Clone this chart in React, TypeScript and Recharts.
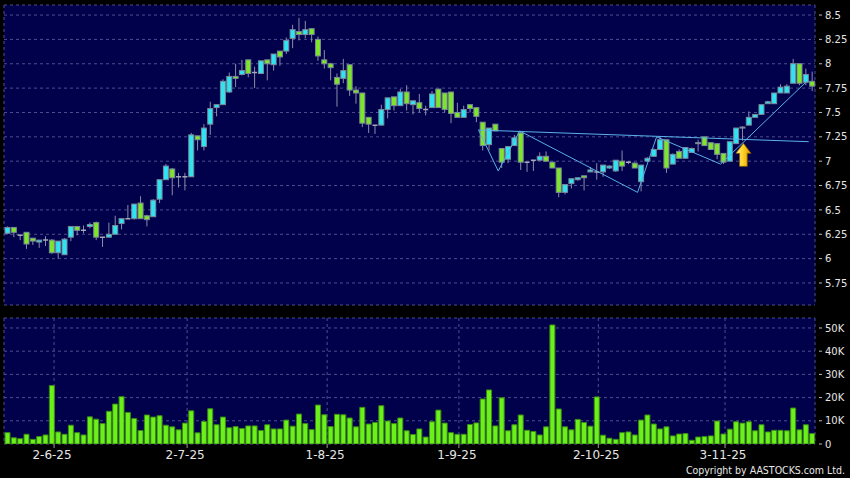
import React from "react";
import {
  ComposedChart,
  BarChart,
  Bar,
  XAxis,
  YAxis,
  CartesianGrid,
  ReferenceLine,
  ReferenceDot,
} from "recharts";

// daily candles, oldest first
const opens = [
  6.26, 6.32, 6.24, 6.27, 6.21, 6.17, 6.19, 6.19, 6.06, 6.04,
  6.22, 6.33, 6.29, 6.33, 6.37, 6.22, 6.22, 6.25, 6.36, 6.41,
  6.41, 6.57, 6.44, 6.43, 6.61, 6.81, 6.92, 6.84, 6.84, 6.84,
  7.26, 7.15, 7.38, 7.55, 7.58, 7.71, 7.87, 7.89, 8.04, 7.91,
  7.9, 8.04, 7.99, 8.13, 8.13, 8.26, 8.33, 8.3, 8.36, 8.25,
  8.04, 8.0, 7.86, 7.85, 7.99, 7.73, 7.7, 7.45, 7.37, 7.37,
  7.53, 7.66, 7.57, 7.71, 7.58, 7.6, 7.53, 7.55, 7.74, 7.7,
  7.71, 7.5, 7.45, 7.58, 7.55, 7.4, 7.17, 7.38, 7.13, 7.02,
  7.16, 7.29, 6.99, 7.01, 7.01, 7.05, 6.99, 6.93, 6.68, 6.77,
  6.81, 6.85, 6.89, 6.89, 6.89, 6.93, 6.9, 7.0, 6.99, 6.98,
  6.79, 7.0, 7.05, 7.12, 7.22, 6.97, 7.1, 7.03, 7.09, 7.18,
  7.25, 7.19, 7.18, 7.08, 7.0, 7.18, 7.34, 7.37, 7.45, 7.48,
  7.59, 7.59, 7.7, 7.7, 7.8, 8.0, 7.81, 7.82,
];
const highs = [
  6.33, 6.32, 6.25, 6.27, 6.21, 6.19, 6.23, 6.2, 6.18, 6.21,
  6.33, 6.33, 6.34, 6.37, 6.38, 6.22, 6.37, 6.44, 6.41, 6.55,
  6.56, 6.64, 6.45, 6.61, 6.81, 6.97, 6.93, 6.88, 6.88, 7.29,
  7.26, 7.38, 7.61, 7.58, 7.84, 7.91, 8.0, 8.04, 8.04, 7.97,
  8.03, 8.04, 8.1, 8.13, 8.27, 8.4, 8.47, 8.44, 8.36, 8.28,
  8.14, 8.01, 7.9, 8.05, 7.99, 7.77, 7.7, 7.45, 7.37, 7.58,
  7.65, 7.66, 7.74, 7.78, 7.62, 7.69, 7.57, 7.72, 7.74, 7.7,
  7.71, 7.6, 7.57, 7.58, 7.55, 7.4, 7.34, 7.38, 7.13, 7.15,
  7.27, 7.3, 6.99, 7.01, 7.09, 7.1, 6.99, 6.93, 6.76, 6.82,
  6.83, 6.85, 6.94, 6.98, 6.96, 6.96, 7.01, 7.11, 7.0, 6.99,
  6.96, 7.04, 7.13, 7.25, 7.22, 7.08, 7.12, 7.14, 7.14, 7.22,
  7.25, 7.19, 7.18, 7.08, 7.2, 7.34, 7.36, 7.51, 7.48, 7.58,
  7.62, 7.7, 7.79, 7.79, 8.05, 8.0, 7.95, 7.92,
];
const lows = [
  6.25, 6.22, 6.19, 6.1, 6.14, 6.11, 6.13, 6.05, 6.0, 6.04,
  6.18, 6.24, 6.26, 6.31, 6.19, 6.12, 6.22, 6.25, 6.3, 6.41,
  6.4, 6.41, 6.33, 6.43, 6.57, 6.81, 6.65, 6.73, 6.7, 6.84,
  7.11, 7.11, 7.27, 7.46, 7.58, 7.7, 7.76, 7.88, 7.86, 7.75,
  7.9, 7.83, 7.93, 7.98, 8.1, 8.16, 8.24, 8.26, 8.22, 8.03,
  7.95, 7.83, 7.56, 7.8, 7.67, 7.59, 7.35, 7.29, 7.28, 7.37,
  7.44, 7.52, 7.57, 7.52, 7.48, 7.5, 7.47, 7.55, 7.55, 7.5,
  7.39, 7.45, 7.45, 7.5, 7.4, 7.11, 7.11, 7.31, 6.93, 6.98,
  7.16, 6.91, 6.89, 6.9, 7.01, 7.0, 6.93, 6.63, 6.66, 6.72,
  6.8, 6.7, 6.89, 6.81, 6.84, 6.92, 6.89, 6.9, 6.97, 6.93,
  6.69, 7.0, 7.05, 7.12, 6.88, 6.97, 7.03, 7.03, 7.09, 7.1,
  7.16, 7.12, 7.02, 6.97, 7.0, 7.18, 7.21, 7.37, 7.45, 7.48,
  7.59, 7.59, 7.7, 7.7, 7.8, 7.78, 7.78, 7.72,
];
const closes = [
  6.32, 6.27, 6.24, 6.15, 6.18, 6.19, 6.19, 6.06, 6.18, 6.2,
  6.33, 6.29, 6.29, 6.35, 6.22, 6.22, 6.25, 6.34, 6.41, 6.41,
  6.56, 6.41, 6.4, 6.6, 6.81, 6.95, 6.83, 6.84, 6.84, 7.27,
  7.22, 7.34, 7.54, 7.58, 7.82, 7.87, 7.85, 7.93, 7.9, 7.91,
  8.03, 8.0, 8.1, 8.07, 8.24, 8.35, 8.3, 8.35, 8.3, 8.08,
  8.0, 7.96, 7.79, 7.93, 7.73, 7.7, 7.39, 7.38, 7.37, 7.53,
  7.65, 7.57, 7.71, 7.59, 7.62, 7.54, 7.53, 7.69, 7.55, 7.53,
  7.49, 7.45, 7.53, 7.54, 7.46, 7.16, 7.34, 7.31, 6.99, 7.15,
  7.24, 6.99, 6.99, 7.01, 7.05, 7.0, 6.93, 6.68, 6.76, 6.82,
  6.83, 6.83, 6.91, 6.89, 6.96, 6.95, 7.01, 6.95, 6.99, 6.93,
  6.96, 7.03, 7.12, 7.22, 6.93, 7.07, 7.03, 7.14, 7.13, 7.19,
  7.16, 7.12, 7.07, 6.99, 7.2, 7.34, 7.35, 7.45, 7.48, 7.58,
  7.61, 7.7, 7.76, 7.77, 8.0, 7.8, 7.89, 7.77,
];
// volume in thousands
const volumes = [
  4.9, 2.7, 2.3, 4.2, 2.0, 3.2, 3.9, 25.2, 5.2, 4.2,
  8.1, 4.9, 3.9, 11.7, 10.7, 8.8, 14.1, 17.2, 20.4, 13.6,
  11.0, 5.8, 12.5, 11.6, 12.2, 8.1, 7.4, 6.1, 9.0, 14.3,
  4.8, 9.7, 15.2, 8.3, 11.6, 7.0, 7.5, 6.7, 7.8, 7.8,
  5.8, 8.3, 6.5, 6.5, 10.3, 7.7, 12.9, 8.8, 6.2, 16.8,
  12.6, 7.5, 12.8, 12.6, 11.2, 7.4, 15.8, 8.6, 9.3, 16.5,
  9.9, 8.8, 11.2, 5.7, 4.1, 6.5, 3.0, 9.6, 14.6, 9.0,
  4.9, 4.2, 4.2, 8.4, 9.1, 19.4, 23.3, 7.8, 19.9, 5.7,
  8.3, 12.5, 5.9, 5.4, 3.9, 7.4, 51.3, 15.1, 7.4, 6.1,
  10.6, 9.3, 7.7, 20.3, 3.8, 2.5, 2.0, 4.9, 5.2, 3.9,
  10.3, 12.5, 8.6, 6.5, 7.4, 3.5, 4.3, 4.5, 1.6, 3.0,
  3.2, 3.5, 9.9, 4.3, 6.4, 9.6, 9.0, 9.6, 5.7, 8.3,
  5.2, 5.9, 5.9, 5.7, 15.5, 6.1, 8.3, 4.5,
];

const dateTicks = [7.4, 28.4, 50.5, 71.3, 93.3, 113.3];
const dateLabels = ["2-6-25", "2-7-25", "1-8-25", "1-9-25", "2-10-25", "3-11-25"];
const priceTicks = [5.75, 6, 6.25, 6.5, 6.75, 7, 7.25, 7.5, 7.75, 8, 8.25, 8.5];
const volumeTicks = [0, 10, 20, 30, 40, 50];

// drawn trend lines (bar index, price)
const resistX = [74.4, 126.5];
const resistY = [7.32, 7.2];
const zigX = [74.4, 77.5, 80.9, 99.5, 102.5, 112.6, 126.2];
const zigY = [7.32, 6.9, 7.31, 6.68, 7.25, 6.97, 7.82];
const signalX = 116.2;
const signalY = 7.06;

const data = opens.map((o, i) => ({
  i,
  o,
  h: highs[i],
  l: lows[i],
  c: closes[i],
  v: volumes[i],
}));

const PLOT_BG = "#00004B";
const GRID = "#4E4E8E";
const UP = "#2EE4F2";
const DOWN = "#7EE62A";
const EDGE = "#7A8898";
const WICK = "#8C8CAA";
const TEXT = "#E6E6E6";
const LINE = "#5AB2E8";

const Candle = (props: any) => {
  const { x, y, width, height, payload } = props;
  const { o, h, l, c } = payload;
  const top = Math.min(y, y + height);
  const hgt = Math.abs(height);
  const ratio = hgt / (h - l);
  const yOf = (v: number) => top + (h - v) * ratio;
  const cx = x + width / 2;
  const bTop = yOf(Math.max(o, c));
  const bBot = yOf(Math.min(o, c));
  return (
    <g>
      <line x1={cx} x2={cx} y1={top} y2={top + hgt} stroke={WICK} strokeWidth={1} />
      {o === c ? (
        <line x1={x} x2={x + width} y1={bTop} y2={bTop} stroke="#A8A8BC" strokeWidth={1.5} />
      ) : (
        <rect
          x={x}
          y={bTop}
          width={width}
          height={Math.max(bBot - bTop, 1)}
          fill={c > o ? UP : DOWN}
          stroke={EDGE}
          strokeWidth={1}
        />
      )}
    </g>
  );
};

const Arrow = ({ cx, cy }: any) => (
  <g>
    <defs>
      <linearGradient id="arrowGrad" x1="0" y1="0" x2="1" y2="0">
        <stop offset="0" stopColor="#FFF4A8" />
        <stop offset="0.45" stopColor="#FFD424" />
        <stop offset="1" stopColor="#E39B00" />
      </linearGradient>
    </defs>
    <path
      d={`M${cx},${cy - 12} L${cx + 7.5},${cy - 2} L${cx + 3.8},${cy - 2} L${cx + 3.8},${cy + 11} L${cx - 3.8},${cy + 11} L${cx - 3.8},${cy - 2} L${cx - 7.5},${cy - 2} Z`}
      fill="url(#arrowGrad)"
      stroke="#8A6400"
      strokeWidth={0.8}
    />
  </g>
);

const RightTick = ({ x, y, payload, fmt }: any) => (
  <g>
    <line x1={x + 4} x2={x + 7} y1={y} y2={y} stroke="#BBBBBB" strokeWidth={1} />
    <text x={x + 10} y={y} dy={3.6} fill={TEXT} fontSize={10} fontFamily="'DejaVu Sans', sans-serif">
      {fmt(payload.value)}
    </text>
  </g>
);

const DateTick = ({ x, y, payload }: any) => (
  <text
    x={x - 2}
    y={y}
    dy={9}
    textAnchor="middle"
    fill={TEXT}
    fontSize={12}
    fontFamily="'DejaVu Sans', sans-serif"
  >
    {dateLabels[dateTicks.indexOf(payload.value)]}
  </text>
);

const xDomain = [-0.5, 127.5];

export default function App() {
  return (
    <div
      style={{
        position: "absolute",
        left: 0,
        top: 0,
        width: 850,
        height: 478,
        background: "#000",
        overflow: "hidden",
      }}
    >
      <ComposedChart
        width={850}
        height={310}
        data={data}
        margin={{ top: 5, right: 0, left: 4, bottom: 4 }}
      >
        <CartesianGrid fill={PLOT_BG} stroke={GRID} strokeDasharray="3 3" />
        <XAxis
          type="number"
          dataKey="i"
          domain={xDomain}
          ticks={dateTicks}
          height={1}
          tick={false}
          axisLine={false}
          tickLine={false}
        />
        <YAxis
          orientation="right"
          width={35}
          type="number"
          domain={[5.524, 8.603]}
          ticks={priceTicks}
          allowDataOverflow
          axisLine={false}
          tickLine={false}
          tickSize={0}
          tickMargin={0}
          tick={<RightTick fmt={(v: number) => String(v)} />}
        />
        <Bar dataKey={(d: any) => [d.l, d.h]} barSize={5} shape={<Candle />} isAnimationActive={false} />
        <ReferenceLine
          segment={[
            { x: resistX[0], y: resistY[0] },
            { x: resistX[1], y: resistY[1] },
          ]}
          stroke={LINE}
          strokeWidth={1}
        />
        {zigX.slice(1).map((x2, k) => (
          <ReferenceLine
            key={k}
            segment={[
              { x: zigX[k], y: zigY[k] },
              { x: x2, y: zigY[k + 1] },
            ]}
            stroke={LINE}
            strokeWidth={1}
          />
        ))}
        <ReferenceDot x={signalX} y={signalY} shape={<Arrow />} />
      </ComposedChart>

      <div style={{ position: "absolute", left: 0, top: 310 }}>
        <BarChart
          width={850}
          height={168}
          data={data}
          margin={{ top: 8, right: 0, left: 4, bottom: 0 }}
        >
          <CartesianGrid fill={PLOT_BG} stroke={GRID} strokeDasharray="3 3" />
          <XAxis
            type="number"
            dataKey="i"
            domain={xDomain}
            ticks={dateTicks}
            height={34}
            axisLine={false}
            tickLine={{ stroke: "#999999" }}
            tickSize={4}
            tick={<DateTick />}
          />
          <YAxis
            orientation="right"
            width={35}
            type="number"
            domain={[0, 54.3]}
            ticks={volumeTicks}
            allowDataOverflow
            axisLine={false}
            tickLine={false}
            tickSize={0}
            tickMargin={0}
            tick={<RightTick fmt={(v: number) => (v === 0 ? "0" : `${v}K`)} />}
          />
          <Bar
            dataKey="v"
            barSize={5}
            fill="#6CF01C"
            stroke="#3A8A12"
            strokeWidth={1}
            isAnimationActive={false}
          />
        </BarChart>
      </div>

      <div
        style={{
          position: "absolute",
          right: 5,
          top: 464,
          color: TEXT,
          fontSize: 10.5,
          lineHeight: "13px",
          fontFamily: "'DejaVu Sans Condensed', 'Liberation Sans Narrow', sans-serif",
        }}
      >
        Copyright by AASTOCKS.com Ltd.
      </div>
    </div>
  );
}
